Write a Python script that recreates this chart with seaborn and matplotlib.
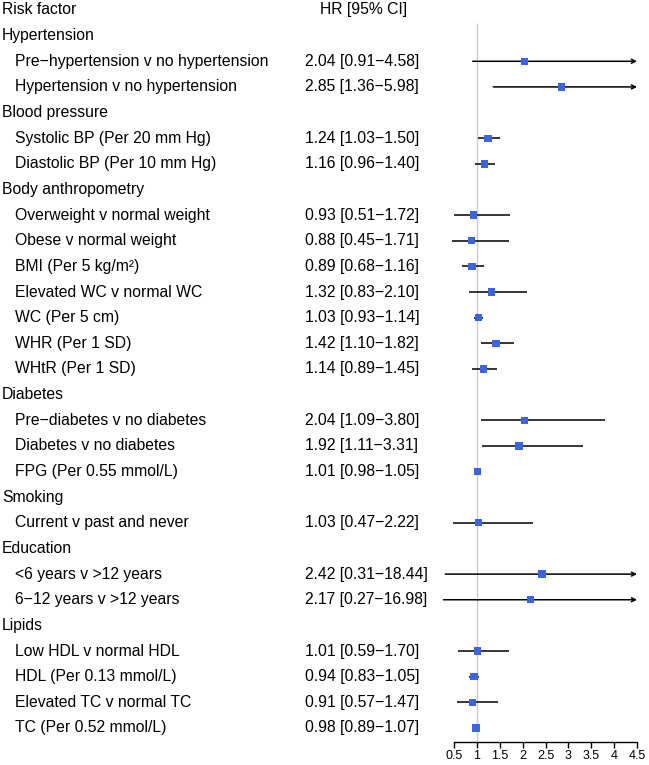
import numpy as np
import pandas as pd
import matplotlib
matplotlib.use("Agg")
import matplotlib.pyplot as plt
import matplotlib.transforms as mtransforms
import seaborn as sns

# data
groups = ["Hypertension", "Blood pressure", "Body anthropometry", "Diabetes",
          "Smoking", "Education", "Lipids"]
group_sizes = [2, 2, 7, 3, 1, 2, 4]
labels = [
    "Pre\u2212hypertension v no hypertension", "Hypertension v no hypertension",
    "Systolic BP (Per 20 mm Hg)", "Diastolic BP (Per 10 mm Hg)",
    "Overweight v normal weight", "Obese v normal weight", "BMI (Per 5 kg/m\u00b2)",
    "Elevated WC v normal WC", "WC (Per 5 cm)", "WHR (Per 1 SD)", "WHtR (Per 1 SD)",
    "Pre\u2212diabetes v no diabetes", "Diabetes v no diabetes", "FPG (Per 0.55 mmol/L)",
    "Current v past and never",
    "<6 years v >12 years", "6\u221212 years v >12 years",
    "Low HDL v normal HDL", "HDL (Per 0.13 mmol/L)", "Elevated TC v normal TC",
    "TC (Per 0.52 mmol/L)",
]
hr = [2.04, 2.85, 1.24, 1.16, 0.93, 0.88, 0.89, 1.32, 1.03, 1.42, 1.14,
      2.04, 1.92, 1.01, 1.03, 2.42, 2.17, 1.01, 0.94, 0.91, 0.98]
lo = [0.91, 1.36, 1.03, 0.96, 0.51, 0.45, 0.68, 0.83, 0.93, 1.10, 0.89,
      1.09, 1.11, 0.98, 0.47, 0.31, 0.27, 0.59, 0.83, 0.57, 0.89]
hi = [4.58, 5.98, 1.50, 1.40, 1.72, 1.71, 1.16, 2.10, 1.14, 1.82, 1.45,
      3.80, 3.31, 1.05, 2.22, 18.44, 16.98, 1.70, 1.05, 1.47, 1.07]
xticks = [0.5, 1, 1.5, 2, 2.5, 3, 3.5, 4, 4.5]

# row positions: headers and items
rows = []
header_rows = []
r = 1
for g, n in zip(groups, group_sizes):
    header_rows.append(r)
    r += 1
    for j in range(n):
        rows.append(r)
        r += 1
df = pd.DataFrame({"label": labels, "hr": hr, "lo": lo, "hi": hi, "row": rows})

sns.set_style("white")
plt.rcParams["font.family"] = ["Liberation Sans", "DejaVu Sans"]
plt.rcParams["text.color"] = "black"
plt.rcParams["xtick.color"] = "black"

fig = plt.figure(figsize=(6.49, 7.65), dpi=100)
ax = fig.add_axes([0.6784, 0.030, 0.3102, 0.970])
xmax = 4.5
ax.set_xlim(0.2, 4.6)
ax.set_ylim(28.55, -0.39)

# reference line at HR = 1
ax.vlines(1, 0.5, 28.55, color="#cccccc", lw=1, zorder=0)

for _, d in df.iterrows():
    if d["hi"] > xmax:
        ax.annotate("", xy=(xmax, d["row"]), xytext=(d["lo"], d["row"]),
                    arrowprops=dict(arrowstyle="->", color="black", lw=1.1,
                                    shrinkA=0, shrinkB=0, mutation_scale=7))
    else:
        ax.hlines(d["row"], d["lo"], d["hi"], color="black", lw=1.1, zorder=1)

sns.scatterplot(data=df, x="hr", y="row", marker="s", s=28, color="#3d64e0",
                edgecolor="none", ax=ax, zorder=3, legend=False)

for s in ["top", "right", "left"]:
    ax.spines[s].set_visible(False)
ax.spines["bottom"].set_bounds(0.5, 4.5)
ax.spines["bottom"].set_color("black")
ax.spines["bottom"].set_linewidth(1)
ax.set_xticks(xticks)
ax.set_xticklabels([f"{t:g}" for t in xticks], fontsize=9)
ax.tick_params(axis="x", bottom=True, length=4, width=1, pad=2, colors="black")
ax.set_yticks([])
ax.set_xlabel("")
ax.set_ylabel("")
ax.patch.set_alpha(0)

tr = mtransforms.blended_transform_factory(fig.transFigure, ax.transData)
fs = 11.3
ax.text(2 / 649, 0, "Risk factor", transform=tr, fontsize=fs, va="center", ha="left")
ax.text(364 / 649, 0, "HR [95% CI]", transform=tr, fontsize=fs, va="center", ha="center")
for g, hr_ in zip(groups, header_rows):
    ax.text(2 / 649, hr_, g, transform=tr, fontsize=fs, va="center", ha="left")
for _, d in df.iterrows():
    ax.text(15 / 649, d["row"], d["label"], transform=tr, fontsize=fs, va="center", ha="left")
    ax.text(305 / 649, d["row"], f"{d['hr']:.2f} [{d['lo']:.2f}\u2212{d['hi']:.2f}]",
            transform=tr, fontsize=fs, va="center", ha="left")

fig.savefig("out.png", dpi=100)
